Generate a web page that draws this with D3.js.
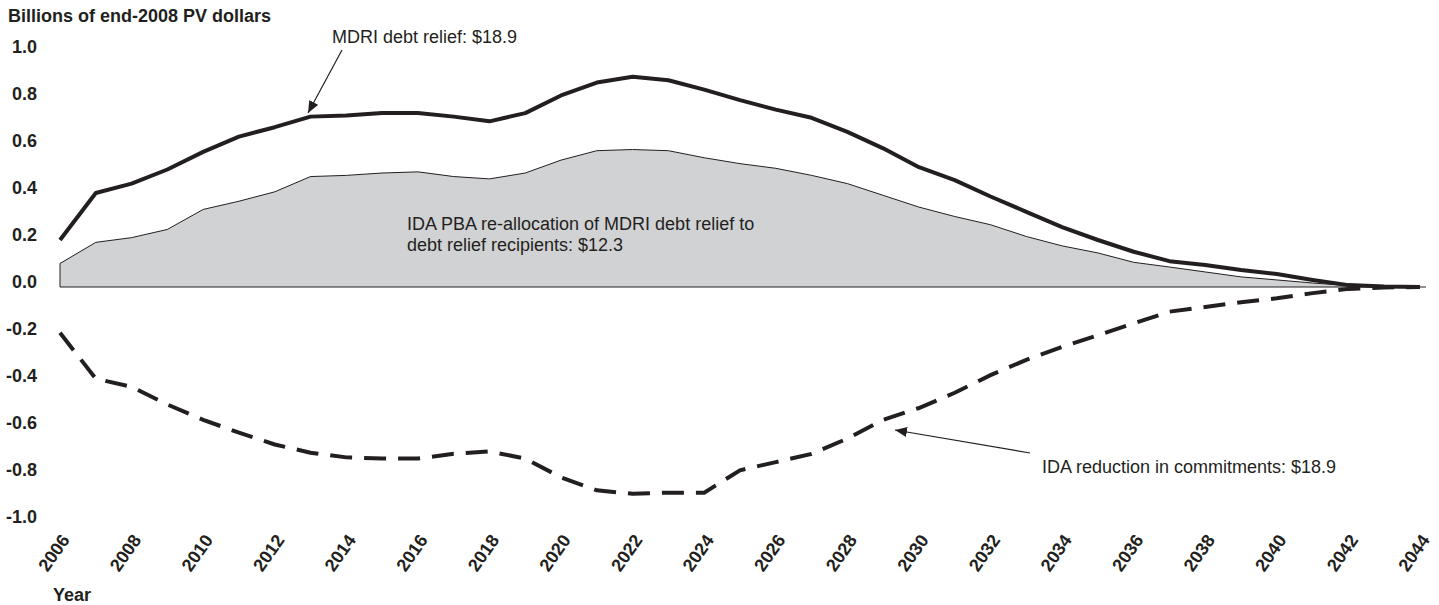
<!DOCTYPE html>
<html>
<head>
<meta charset="utf-8">
<script src="https://cdn.jsdelivr.net/npm/d3@7"></script>
<style>
  html, body { margin: 0; padding: 0; background: #fff; }
  svg { display: block; font-family: "Liberation Sans", Arial, Helvetica, sans-serif; }
</style>
</head>
<body>
<svg id="chart" width="1439" height="605"></svg>
<script>
const years = d3.range(2006, 2045);
const mdriRelief = [0.20, 0.40, 0.44, 0.50, 0.575, 0.64, 0.68, 0.725, 0.73, 0.74,
  0.74, 0.725, 0.705, 0.74, 0.815, 0.87, 0.895, 0.88, 0.84, 0.795,
  0.755, 0.72, 0.66, 0.59, 0.51, 0.455, 0.385, 0.32, 0.255, 0.20,
  0.15, 0.11, 0.094, 0.072, 0.055, 0.03, 0.008, 0.002, 0];
const pbaReallocation = [0.10, 0.19, 0.21, 0.245, 0.33, 0.365, 0.405, 0.47, 0.475, 0.485,
  0.49, 0.47, 0.46, 0.485, 0.54, 0.58, 0.585, 0.58, 0.55, 0.525,
  0.505, 0.475, 0.44, 0.39, 0.34, 0.30, 0.265, 0.215, 0.175, 0.145,
  0.105, 0.085, 0.064, 0.043, 0.03, 0.017, 0.006, 0.002, 0];
const idaReduction = [-0.195, -0.39, -0.425, -0.50, -0.565, -0.62, -0.67, -0.705, -0.725, -0.73,
  -0.73, -0.71, -0.70, -0.73, -0.81, -0.865, -0.88, -0.875, -0.875, -0.78,
  -0.745, -0.71, -0.645, -0.565, -0.515, -0.45, -0.375, -0.31, -0.255, -0.205,
  -0.155, -0.105, -0.085, -0.065, -0.048, -0.026, -0.008, -0.002, 0];
const yTicks = [1.0, 0.8, 0.6, 0.4, 0.2, 0.0, -0.2, -0.4, -0.6, -0.8, -1.0];
const xTicks = d3.range(2006, 2045, 2);
const titleText = "Billions of end-2008 PV dollars";
const xTitle = "Year";
const noteMdri = "MDRI debt relief: $18.9";
const notePba = ["IDA PBA re-allocation of MDRI debt relief to", "debt relief recipients: $12.3"];
const noteIda = "IDA reduction in commitments: $18.9";

const ink = "#231f20";
const svg = d3.select("#chart");

const x = d3.scaleLinear().domain([2006, 2044]).range([60, 1420]);
const y = d3.scaleLinear().domain([-1, 1]).range([522, 52]);

const defs = svg.append("defs");
defs.append("marker").attr("id", "arrow")
  .attr("viewBox", "0 0 12 10").attr("refX", 12).attr("refY", 5)
  .attr("markerWidth", 12).attr("markerHeight", 10)
  .attr("markerUnits", "userSpaceOnUse").attr("orient", "auto")
  .append("path").attr("d", "M0,0 L12,5 L0,10 Z").attr("fill", ink);

// title
svg.append("text").attr("x", 8).attr("y", 22)
  .attr("font-size", 18).attr("font-weight", "bold").attr("fill", ink)
  .text(titleText);

// area
const pbaData = years.map((yr, i) => ({ yr, v: pbaReallocation[i] }));
const area = d3.area().x(d => x(d.yr)).y0(y(0)).y1(d => y(d.v));
svg.append("path").datum(pbaData).attr("d", area).attr("fill", "#d1d2d4").attr("stroke", "none");
const topLine = d3.line().x(d => x(d.yr)).y(d => y(d.v));
svg.append("path").datum(pbaData).attr("d", topLine).attr("fill", "none").attr("stroke", ink).attr("stroke-width", 1);
svg.append("line").attr("x1", x(2006)).attr("x2", x(2006)).attr("y1", y(0)).attr("y2", y(pbaReallocation[0]))
  .attr("stroke", ink).attr("stroke-width", 1);
// zero baseline
svg.append("line").attr("x1", x(2006)).attr("x2", x(2044) + 6).attr("y1", y(0)).attr("y2", y(0))
  .attr("stroke", ink).attr("stroke-width", 1.2);

// lines
const mdriData = years.map((yr, i) => ({ yr, v: mdriRelief[i] }));
const idaData = years.map((yr, i) => ({ yr, v: idaReduction[i] }));
const line = d3.line().x(d => x(d.yr)).y(d => y(d.v));
svg.append("path").datum(mdriData).attr("d", line).attr("fill", "none")
  .attr("stroke", ink).attr("stroke-width", 4).attr("stroke-linejoin", "round");
svg.append("path").datum(idaData).attr("d", line).attr("fill", "none")
  .attr("stroke", ink).attr("stroke-width", 4).attr("stroke-dasharray", "22 12");

// y axis
const fmt = d3.format(".1f");
const yAxis = d3.axisLeft(y).tickValues(yTicks).tickSize(0).tickPadding(23)
  .tickFormat(d => fmt(d).replace("\u2212", "-"));
const gy = svg.append("g").attr("transform", `translate(${x(2006)},0)`).call(yAxis);
gy.select(".domain").remove();
gy.selectAll("text").attr("font-size", 18).attr("font-weight", "bold").attr("fill", ink)
  .attr("font-family", "Liberation Sans, Arial, sans-serif")
  .attr("transform", "translate(0,-5)");

// x axis
const xAxis = d3.axisBottom(x).tickValues(xTicks).tickSize(0).tickFormat(d3.format("d"));
const gx = svg.append("g").attr("transform", "translate(0,540)").call(xAxis);
gx.select(".domain").remove();
gx.selectAll("text").attr("font-size", 18).attr("font-weight", "bold").attr("fill", ink)
  .attr("font-family", "Liberation Sans, Arial, sans-serif")
  .attr("text-anchor", "end").attr("dy", 0).attr("y", 0)
  .attr("transform", "translate(10,0) rotate(-55)");

svg.append("text").attr("x", 53).attr("y", 601)
  .attr("font-size", 18).attr("font-weight", "bold").attr("fill", ink).text(xTitle);

// annotations
svg.append("text").attr("x", 332).attr("y", 43).attr("font-size", 18).attr("fill", ink).text(noteMdri);
svg.append("line").attr("x1", 342).attr("y1", 50).attr("x2", 308).attr("y2", 113)
  .attr("stroke", ink).attr("stroke-width", 1.2).attr("marker-end", "url(#arrow)");

svg.append("text").attr("font-size", 18).attr("fill", ink)
  .selectAll("tspan").data(notePba).join("tspan")
  .attr("x", 407).attr("y", (d, i) => 230 + i * 21).text(d => d);

svg.append("text").attr("x", 1042).attr("y", 473).attr("font-size", 18).attr("fill", ink).text(noteIda);
svg.append("line").attr("x1", 1030).attr("y1", 453).attr("x2", 895).attr("y2", 430)
  .attr("stroke", ink).attr("stroke-width", 1.2).attr("marker-end", "url(#arrow)");
</script>
</body>
</html>
